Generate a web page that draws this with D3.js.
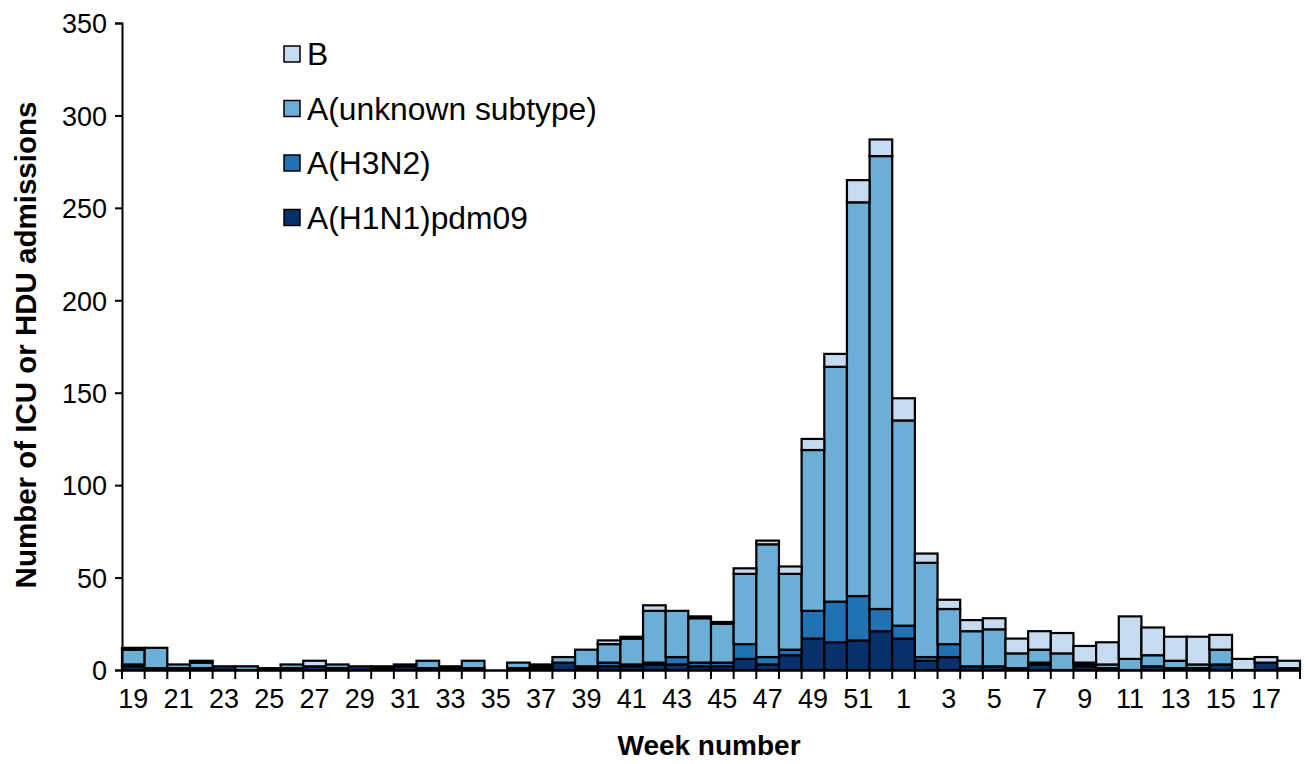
<!DOCTYPE html>
<html><head><meta charset="utf-8">
<script src="https://cdn.jsdelivr.net/npm/d3@7"></script>
<style>body{margin:0;background:#fff}svg{display:block}text{font-family:"Liberation Sans",Arial,sans-serif}</style>
</head><body>
<svg id="c" width="1309" height="764"></svg>
<script>
const weeks = ["19","20","21","22","23","24","25","26","27","28","29","30","31","32","33","34","35","36","37","38","39","40","41","42","43","44","45","46","47","48","49","50","51","52","1","2","3","4","5","6","7","8","9","10","11","12","13","14","15","16","17","18"];
const h1n1    = [2,1,1,1,2,0,1,1,2,1,2,1,2,1,1,1,0,1,1,4,1,2,2,3,3,2,2,6,3,8,17,15,16,21,17,5,7,2,2,1,3,0,2,1,0,2,1,1,3,0,4,1];
const h3n2    = [1,0,0,0,0,0,0,0,0,0,0,0,0,0,0,0,0,0,1,0,1,2,1,1,4,2,2,8,4,3,15,22,24,12,7,2,7,0,0,0,1,0,1,0,0,0,0,0,0,0,0,0];
const unknown = [8,11,2,3,0,2,0,2,0,2,0,1,1,4,1,4,0,3,1,3,9,10,14,28,25,24,21,38,61,41,87,127,213,245,111,51,19,19,20,8,7,9,1,2,6,6,4,2,8,0,0,0];
const bType   = [1,0,0,1,0,0,0,0,3,0,0,0,0,0,0,0,0,0,0,0,0,2,1,3,0,1,1,3,2,4,6,7,12,9,12,5,5,6,6,8,10,11,9,12,23,15,13,15,8,6,3,4];
const seriesNames = ["A(H1N1)pdm09","A(H3N2)","A(unknown subtype)","B"];
const seriesColors = ["#08306b","#2171b5","#6baed6","#c6dbef"];
const yTicks = [0,50,100,150,200,250,300,350];

const svg = d3.select("#c");
const x0 = 122, x1 = 1300, yb = 670, yt = 23;
const x = d3.scaleBand().domain(weeks).range([x0, x1]).padding(0);
const y = d3.scaleLinear().domain([0,350]).range([yb, yt]);

const rows = weeks.map((w,i)=>({week:w, "A(H1N1)pdm09":h1n1[i], "A(H3N2)":h3n2[i], "A(unknown subtype)":unknown[i], "B":bType[i]}));
const stacked = d3.stack().keys(seriesNames)(rows);

const g = svg.append("g");
stacked.forEach((s,si)=>{
  g.selectAll(null).data(s.filter(d=>d[1]-d[0]>0)).enter().append("rect")
    .attr("x", d=>x(d.data.week))
    .attr("width", x.bandwidth())
    .attr("y", d=>y(d[1]))
    .attr("height", d=>y(d[0])-y(d[1]))
    .attr("fill", seriesColors[si])
    .attr("stroke", "#000")
    .attr("stroke-width", 2.2);
});

// Y axis
const ya = svg.append("g").attr("transform",`translate(${x0},0)`)
  .call(d3.axisLeft(y).tickValues(yTicks).tickSize(7).tickPadding(8));
ya.select(".domain").attr("stroke","#000").attr("stroke-width",2);
ya.selectAll(".tick line").attr("stroke","#000").attr("stroke-width",2);
ya.selectAll("text").attr("font-size",27).attr("fill","#000").attr("dy","0.36em");

// X axis
const xa = svg.append("g").attr("transform",`translate(0,${yb})`)
  .call(d3.axisBottom(x).tickValues([]).tickSizeOuter(0));
xa.select(".domain").attr("stroke","#000").attr("stroke-width",2.5);
svg.append("g").selectAll("line").data(weeks.concat(["end"])).enter().append("line")
  .attr("x1",(d,i)=>x0+i*x.step()).attr("x2",(d,i)=>x0+i*x.step())
  .attr("y1",yb).attr("y2",yb+9).attr("stroke","#000").attr("stroke-width",2);
svg.append("g").selectAll("text").data(weeks.filter((d,i)=>i%2===0)).enter().append("text")
  .attr("x",d=>x(d)+x.bandwidth()/2).attr("y",yb+38)
  .attr("text-anchor","middle").attr("font-size",27).attr("fill","#000").text(d=>d);

// Titles
svg.append("text").attr("x",709).attr("y",755).attr("text-anchor","middle")
  .attr("font-size",28).attr("font-weight","bold").text("Week number");
svg.append("text").attr("transform","translate(36,345) rotate(-90)").attr("text-anchor","middle")
  .attr("font-size",29.5).attr("font-weight","bold").text("Number of ICU or HDU admissions");

// Legend
const legendOrder = ["B","A(unknown subtype)","A(H3N2)","A(H1N1)pdm09"];
const lg = svg.append("g");
legendOrder.forEach((n,i)=>{
  const cy = 54 + i*54.5;
  lg.append("rect").attr("x",284).attr("y",cy-8).attr("width",16).attr("height",16)
    .attr("fill",seriesColors[seriesNames.indexOf(n)]).attr("stroke","#000").attr("stroke-width",1.5);
  lg.append("text").attr("x",307).attr("y",cy).attr("dy","0.36em").attr("font-size",31.8).text(n);
});
</script>
</body></html>
